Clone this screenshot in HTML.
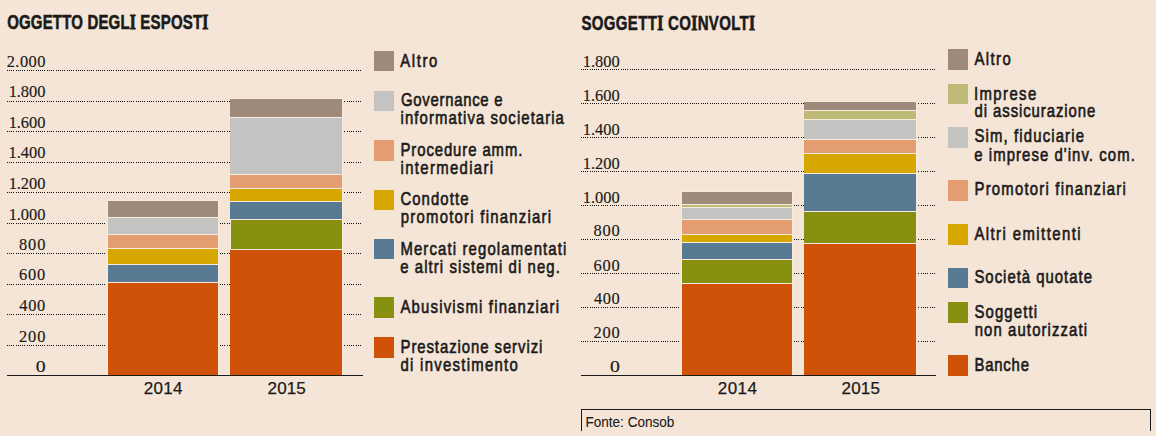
<!DOCTYPE html>
<html><head><meta charset="utf-8">
<style>
html,body{margin:0;padding:0;background:#f5e5d6;}
body{width:1156px;height:436px;overflow:hidden;}
svg{display:block;}
</style></head><body>
<svg width="1156" height="436" viewBox="0 0 1156 436">
<defs><pattern id="dL" x="7" y="0" width="20" height="1" patternUnits="userSpaceOnUse"><rect x="0" width="1" height="1" fill="#111"/><rect x="2" width="1" height="1" fill="#111"/><rect x="4" width="1" height="1" fill="#111"/><rect x="6" width="1" height="1" fill="#111"/><rect x="9" width="1" height="1" fill="#111"/><rect x="11" width="1" height="1" fill="#111"/><rect x="13" width="1" height="1" fill="#111"/><rect x="15" width="1" height="1" fill="#111"/><rect x="17" width="1" height="1" fill="#111"/></pattern><pattern id="dR" x="1" y="0" width="20" height="1" patternUnits="userSpaceOnUse"><rect x="0" width="1" height="1" fill="#111"/><rect x="2" width="1" height="1" fill="#111"/><rect x="4" width="1" height="1" fill="#111"/><rect x="6" width="1" height="1" fill="#111"/><rect x="9" width="1" height="1" fill="#111"/><rect x="11" width="1" height="1" fill="#111"/><rect x="13" width="1" height="1" fill="#111"/><rect x="15" width="1" height="1" fill="#111"/><rect x="17" width="1" height="1" fill="#111"/></pattern></defs>
<rect width="1156" height="436" fill="#f5e5d6"/>
<g shape-rendering="crispEdges">
<g fill="url(#dL)"><rect x="7" y="70" width="354" height="1"/><rect x="7" y="101" width="354" height="1"/><rect x="7" y="131" width="354" height="1"/><rect x="7" y="162" width="354" height="1"/><rect x="7" y="192" width="354" height="1"/><rect x="7" y="223" width="354" height="1"/><rect x="7" y="253" width="354" height="1"/><rect x="7" y="284" width="354" height="1"/><rect x="7" y="314" width="354" height="1"/><rect x="7" y="345" width="354" height="1"/></g>
<g fill="url(#dR)"><rect x="581" y="69" width="355" height="1"/><rect x="581" y="103" width="355" height="1"/><rect x="581" y="137" width="355" height="1"/><rect x="581" y="171" width="355" height="1"/><rect x="581" y="205" width="355" height="1"/><rect x="581" y="239" width="355" height="1"/><rect x="581" y="273" width="355" height="1"/><rect x="581" y="307" width="355" height="1"/><rect x="581" y="341" width="355" height="1"/></g>
<rect x="107" y="200" width="112" height="175" fill="#f8eadd"/><rect x="108" y="201" width="110" height="16" fill="#9d8a7a"/><rect x="108" y="218" width="110" height="16" fill="#c3c4c2"/><rect x="108" y="235" width="110" height="13" fill="#e49d70"/><rect x="108" y="249" width="110" height="15" fill="#d7a700"/><rect x="108" y="265" width="110" height="17" fill="#587a93"/><rect x="108" y="283" width="110" height="92" fill="#d05208"/>
<rect x="230" y="98" width="113" height="277" fill="#f8eadd"/><rect x="230" y="99" width="112" height="18" fill="#9d8a7a"/><rect x="230" y="118" width="112" height="56" fill="#c3c4c2"/><rect x="230" y="175" width="112" height="13" fill="#e49d70"/><rect x="230" y="189" width="112" height="12" fill="#d7a700"/><rect x="230" y="202" width="112" height="17" fill="#587a93"/><rect x="231" y="220" width="111" height="29" fill="#88900f"/><rect x="230" y="250" width="112" height="125" fill="#d05208"/>
<rect x="681" y="191" width="112" height="184" fill="#f8eadd"/><rect x="682" y="192" width="110" height="12" fill="#9d8a7a"/><rect x="682" y="205" width="110" height="2" fill="#bdba78"/><rect x="682" y="208" width="110" height="11" fill="#c3c4c2"/><rect x="682" y="220" width="110" height="14" fill="#e49d70"/><rect x="682" y="235" width="110" height="7" fill="#d7a700"/><rect x="682" y="243" width="110" height="16" fill="#587a93"/><rect x="682" y="260" width="110" height="23" fill="#88900f"/><rect x="682" y="284" width="110" height="91" fill="#d05208"/>
<rect x="804" y="101" width="113" height="274" fill="#f8eadd"/><rect x="804" y="102" width="112" height="8" fill="#9d8a7a"/><rect x="804" y="111" width="112" height="8" fill="#bdba78"/><rect x="804" y="120" width="112" height="19" fill="#c3c4c2"/><rect x="804" y="140" width="112" height="13" fill="#e49d70"/><rect x="804" y="154" width="112" height="19" fill="#d7a700"/><rect x="804" y="174" width="112" height="37" fill="#587a93"/><rect x="804" y="212" width="112" height="31" fill="#88900f"/><rect x="804" y="244" width="112" height="131" fill="#d05208"/>
<rect x="7" y="375" width="356" height="1" fill="#1a1a1a"/><rect x="581" y="375" width="355" height="1" fill="#1a1a1a"/>
<rect x="374" y="51" width="20" height="20" fill="#9d8a7a"/><rect x="374" y="91" width="20" height="20" fill="#c3c4c2"/><rect x="374" y="140" width="20" height="21" fill="#e49d70"/><rect x="374" y="190" width="20" height="20" fill="#d7a700"/><rect x="374" y="239" width="20" height="20" fill="#587a93"/><rect x="374" y="297" width="20" height="21" fill="#88900f"/><rect x="374" y="337" width="20" height="21" fill="#d05208"/>
<rect x="948" y="49" width="20" height="21" fill="#9d8a7a"/><rect x="948" y="84" width="20" height="20" fill="#bdba78"/><rect x="948" y="127" width="20" height="21" fill="#c3c4c2"/><rect x="948" y="180" width="20" height="21" fill="#e49d70"/><rect x="948" y="224" width="20" height="21" fill="#d7a700"/><rect x="948" y="268" width="20" height="20" fill="#587a93"/><rect x="948" y="302" width="20" height="21" fill="#88900f"/><rect x="948" y="355" width="20" height="21" fill="#d05208"/>
<rect x="581" y="409" width="570" height="1" fill="#1a1a1a"/><rect x="581" y="409" width="1" height="22" fill="#1a1a1a"/><rect x="1150" y="409" width="1" height="22" fill="#1a1a1a"/>
</g>
<text transform="translate(7.13 29) scale(0.74 1)" textLength="271.85" lengthAdjust="spacing" style='font-family:"Liberation Sans",sans-serif;font-weight:bold;font-size:20.3px;' fill="#1a1a1a" stroke="#1a1a1a" stroke-width="0.55">OGGETTO DEGL<tspan style='font-family:"Liberation Serif",serif;font-size:21px;stroke-width:0.9;'>I</tspan> ESPOST<tspan style='font-family:"Liberation Serif",serif;font-size:21px;stroke-width:0.9;'>I</tspan></text>
<text transform="translate(581.42 30) scale(0.74 1)" textLength="234.72" lengthAdjust="spacing" style='font-family:"Liberation Sans",sans-serif;font-weight:bold;font-size:20.3px;' fill="#1a1a1a" stroke="#1a1a1a" stroke-width="0.55">SOGGETT<tspan style='font-family:"Liberation Serif",serif;font-size:21px;stroke-width:0.9;'>I</tspan> CO<tspan style='font-family:"Liberation Serif",serif;font-size:21px;stroke-width:0.9;'>I</tspan>NVOLT<tspan style='font-family:"Liberation Serif",serif;font-size:21px;stroke-width:0.9;'>I</tspan></text>
<text transform="translate(400.29 67) scale(0.8 1)" textLength="46.29" lengthAdjust="spacing" style='font-family:"Liberation Sans",sans-serif;font-size:18.6px;' fill="#1a1a1a" stroke="#1a1a1a" stroke-width="0.65">Altro</text>
<text transform="translate(400.93 106) scale(0.8 1)" textLength="127.01" lengthAdjust="spacing" style='font-family:"Liberation Sans",sans-serif;font-size:18.6px;' fill="#1a1a1a" stroke="#1a1a1a" stroke-width="0.65">Governance e</text>
<text transform="translate(400.62 124) scale(0.8 1)" textLength="204.10" lengthAdjust="spacing" style='font-family:"Liberation Sans",sans-serif;font-size:18.6px;' fill="#1a1a1a" stroke="#1a1a1a" stroke-width="0.65">informativa societaria</text>
<text transform="translate(400.52 155.6) scale(0.8 1)" textLength="152.29" lengthAdjust="spacing" style='font-family:"Liberation Sans",sans-serif;font-size:18.6px;' fill="#1a1a1a" stroke="#1a1a1a" stroke-width="0.65">Procedure amm.</text>
<text transform="translate(400.62 174.4) scale(0.8 1)" textLength="115.50" lengthAdjust="spacing" style='font-family:"Liberation Sans",sans-serif;font-size:18.6px;' fill="#1a1a1a" stroke="#1a1a1a" stroke-width="0.65">intermediari</text>
<text transform="translate(400.42 205.3) scale(0.8 1)" textLength="85.04" lengthAdjust="spacing" style='font-family:"Liberation Sans",sans-serif;font-size:18.6px;' fill="#1a1a1a" stroke="#1a1a1a" stroke-width="0.65">Condotte</text>
<text transform="translate(400.76 223) scale(0.8 1)" textLength="187.94" lengthAdjust="spacing" style='font-family:"Liberation Sans",sans-serif;font-size:18.6px;' fill="#1a1a1a" stroke="#1a1a1a" stroke-width="0.65">promotori finanziari</text>
<text transform="translate(400.40 254.6) scale(0.8 1)" textLength="207.44" lengthAdjust="spacing" style='font-family:"Liberation Sans",sans-serif;font-size:18.6px;' fill="#1a1a1a" stroke="#1a1a1a" stroke-width="0.65">Mercati regolamentati</text>
<text transform="translate(400.23 273) scale(0.8 1)" textLength="199.45" lengthAdjust="spacing" style='font-family:"Liberation Sans",sans-serif;font-size:18.6px;' fill="#1a1a1a" stroke="#1a1a1a" stroke-width="0.65">e altri sistemi di neg.</text>
<text transform="translate(400.51 312.6) scale(0.8 1)" textLength="198.14" lengthAdjust="spacing" style='font-family:"Liberation Sans",sans-serif;font-size:18.6px;' fill="#1a1a1a" stroke="#1a1a1a" stroke-width="0.65">Abusivismi finanziari</text>
<text transform="translate(400.52 352.6) scale(0.8 1)" textLength="177.27" lengthAdjust="spacing" style='font-family:"Liberation Sans",sans-serif;font-size:18.6px;' fill="#1a1a1a" stroke="#1a1a1a" stroke-width="0.65">Prestazione servizi</text>
<text transform="translate(400.56 371.4) scale(0.8 1)" textLength="146.45" lengthAdjust="spacing" style='font-family:"Liberation Sans",sans-serif;font-size:18.6px;' fill="#1a1a1a" stroke="#1a1a1a" stroke-width="0.65">di investimento</text>
<text transform="translate(974.42 64.9) scale(0.8 1)" textLength="45.44" lengthAdjust="spacing" style='font-family:"Liberation Sans",sans-serif;font-size:18.6px;' fill="#1a1a1a" stroke="#1a1a1a" stroke-width="0.65">Altro</text>
<text transform="translate(973.93 99.8) scale(0.8 1)" textLength="77.86" lengthAdjust="spacing" style='font-family:"Liberation Sans",sans-serif;font-size:18.6px;' fill="#1a1a1a" stroke="#1a1a1a" stroke-width="0.65">Imprese</text>
<text transform="translate(974.56 117.1) scale(0.8 1)" textLength="150.74" lengthAdjust="spacing" style='font-family:"Liberation Sans",sans-serif;font-size:18.6px;' fill="#1a1a1a" stroke="#1a1a1a" stroke-width="0.65">di assicurazione</text>
<text transform="translate(974.44 142) scale(0.8 1)" textLength="136.86" lengthAdjust="spacing" style='font-family:"Liberation Sans",sans-serif;font-size:18.6px;' fill="#1a1a1a" stroke="#1a1a1a" stroke-width="0.65">Sim, fiduciarie</text>
<text transform="translate(974.23 161) scale(0.8 1)" textLength="200.70" lengthAdjust="spacing" style='font-family:"Liberation Sans",sans-serif;font-size:18.6px;' fill="#1a1a1a" stroke="#1a1a1a" stroke-width="0.65">e imprese d&#39;inv. com.</text>
<text transform="translate(974.52 195.3) scale(0.8 1)" textLength="189.06" lengthAdjust="spacing" style='font-family:"Liberation Sans",sans-serif;font-size:18.6px;' fill="#1a1a1a" stroke="#1a1a1a" stroke-width="0.65">Promotori finanziari</text>
<text transform="translate(974.42 239.9) scale(0.8 1)" textLength="132.70" lengthAdjust="spacing" style='font-family:"Liberation Sans",sans-serif;font-size:18.6px;' fill="#1a1a1a" stroke="#1a1a1a" stroke-width="0.65">Altri emittenti</text>
<text transform="translate(974.44 283) scale(0.8 1)" textLength="146.86" lengthAdjust="spacing" style='font-family:"Liberation Sans",sans-serif;font-size:18.6px;' fill="#1a1a1a" stroke="#1a1a1a" stroke-width="0.65">Società quotate</text>
<text transform="translate(974.44 317.6) scale(0.8 1)" textLength="78.25" lengthAdjust="spacing" style='font-family:"Liberation Sans",sans-serif;font-size:18.6px;' fill="#1a1a1a" stroke="#1a1a1a" stroke-width="0.65">Soggetti</text>
<text transform="translate(974.73 336.4) scale(0.8 1)" textLength="140.40" lengthAdjust="spacing" style='font-family:"Liberation Sans",sans-serif;font-size:18.6px;' fill="#1a1a1a" stroke="#1a1a1a" stroke-width="0.65">non autorizzati</text>
<text transform="translate(974.52 370.6) scale(0.8 1)" textLength="67.99" lengthAdjust="spacing" style='font-family:"Liberation Sans",sans-serif;font-size:18.6px;' fill="#1a1a1a" stroke="#1a1a1a" stroke-width="0.65">Banche</text>
<text x="143.66" y="394.2" textLength="38.84" lengthAdjust="spacing" style='font-family:"Liberation Sans",sans-serif;font-size:17px;' fill="#1a1a1a" stroke="#1a1a1a" stroke-width="0.25">2014</text>
<text x="267.61" y="394.2" textLength="38.07" lengthAdjust="spacing" style='font-family:"Liberation Sans",sans-serif;font-size:17px;' fill="#1a1a1a" stroke="#1a1a1a" stroke-width="0.25">2015</text>
<text x="717.77" y="394" textLength="39.08" lengthAdjust="spacing" style='font-family:"Liberation Sans",sans-serif;font-size:17px;' fill="#1a1a1a" stroke="#1a1a1a" stroke-width="0.25">2014</text>
<text x="841.48" y="394" textLength="38.47" lengthAdjust="spacing" style='font-family:"Liberation Sans",sans-serif;font-size:17px;' fill="#1a1a1a" stroke="#1a1a1a" stroke-width="0.25">2015</text>
<text transform="translate(585.45 426.6) scale(0.88 1)" textLength="101.10" lengthAdjust="spacing" style='font-family:"Liberation Sans",sans-serif;font-size:15.4px;' fill="#1a1a1a" stroke="#1a1a1a" stroke-width="0.1">Fonte: Consob</text>
<text transform="translate(6.69 67) scale(1.02 1)" textLength="38.05" lengthAdjust="spacing" style='font-family:"Liberation Serif",serif;font-size:16.1px;' fill="#1a1a1a" stroke="#1a1a1a" stroke-width="0.15">2.000</text>
<text transform="translate(8.68 97) scale(1.02 1)" textLength="35.97" lengthAdjust="spacing" style='font-family:"Liberation Serif",serif;font-size:16.1px;' fill="#1a1a1a" stroke="#1a1a1a" stroke-width="0.15">1.800</text>
<text transform="translate(8.68 128) scale(1.02 1)" textLength="35.97" lengthAdjust="spacing" style='font-family:"Liberation Serif",serif;font-size:16.1px;' fill="#1a1a1a" stroke="#1a1a1a" stroke-width="0.15">1.600</text>
<text transform="translate(8.55 158) scale(1.02 1)" textLength="36.12" lengthAdjust="spacing" style='font-family:"Liberation Serif",serif;font-size:16.1px;' fill="#1a1a1a" stroke="#1a1a1a" stroke-width="0.15">1.400</text>
<text transform="translate(8.68 189) scale(1.02 1)" textLength="35.97" lengthAdjust="spacing" style='font-family:"Liberation Serif",serif;font-size:16.1px;' fill="#1a1a1a" stroke="#1a1a1a" stroke-width="0.15">1.200</text>
<text transform="translate(8.68 220) scale(1.02 1)" textLength="35.97" lengthAdjust="spacing" style='font-family:"Liberation Serif",serif;font-size:16.1px;' fill="#1a1a1a" stroke="#1a1a1a" stroke-width="0.15">1.000</text>
<text transform="translate(18.91 250) scale(1.02 1)" textLength="25.96" lengthAdjust="spacing" style='font-family:"Liberation Serif",serif;font-size:16.1px;' fill="#1a1a1a" stroke="#1a1a1a" stroke-width="0.15">800</text>
<text transform="translate(19.12 280) scale(1.02 1)" textLength="25.57" lengthAdjust="spacing" style='font-family:"Liberation Serif",serif;font-size:16.1px;' fill="#1a1a1a" stroke="#1a1a1a" stroke-width="0.15">600</text>
<text transform="translate(19.34 311) scale(1.02 1)" textLength="25.45" lengthAdjust="spacing" style='font-family:"Liberation Serif",serif;font-size:16.1px;' fill="#1a1a1a" stroke="#1a1a1a" stroke-width="0.15">400</text>
<text transform="translate(19.07 342) scale(1.02 1)" textLength="25.76" lengthAdjust="spacing" style='font-family:"Liberation Serif",serif;font-size:16.1px;' fill="#1a1a1a" stroke="#1a1a1a" stroke-width="0.15">200</text>
<text transform="translate(35.72 372) scale(1.02 1)" textLength="9.69" lengthAdjust="spacingAndGlyphs" style='font-family:"Liberation Serif",serif;font-size:16.1px;' fill="#1a1a1a" stroke="#1a1a1a" stroke-width="0.15">0</text>
<text transform="translate(582.68 67) scale(1.02 1)" textLength="36.32" lengthAdjust="spacing" style='font-family:"Liberation Serif",serif;font-size:16.1px;' fill="#1a1a1a" stroke="#1a1a1a" stroke-width="0.15">1.800</text>
<text transform="translate(582.68 101) scale(1.02 1)" textLength="36.32" lengthAdjust="spacing" style='font-family:"Liberation Serif",serif;font-size:16.1px;' fill="#1a1a1a" stroke="#1a1a1a" stroke-width="0.15">1.600</text>
<text transform="translate(582.68 135) scale(1.02 1)" textLength="36.32" lengthAdjust="spacing" style='font-family:"Liberation Serif",serif;font-size:16.1px;' fill="#1a1a1a" stroke="#1a1a1a" stroke-width="0.15">1.400</text>
<text transform="translate(582.68 169) scale(1.02 1)" textLength="36.32" lengthAdjust="spacing" style='font-family:"Liberation Serif",serif;font-size:16.1px;' fill="#1a1a1a" stroke="#1a1a1a" stroke-width="0.15">1.200</text>
<text transform="translate(582.68 203) scale(1.02 1)" textLength="36.32" lengthAdjust="spacing" style='font-family:"Liberation Serif",serif;font-size:16.1px;' fill="#1a1a1a" stroke="#1a1a1a" stroke-width="0.15">1.000</text>
<text transform="translate(593.57 236) scale(1.02 1)" textLength="25.61" lengthAdjust="spacing" style='font-family:"Liberation Serif",serif;font-size:16.1px;' fill="#1a1a1a" stroke="#1a1a1a" stroke-width="0.15">800</text>
<text transform="translate(593.45 271) scale(1.02 1)" textLength="25.68" lengthAdjust="spacing" style='font-family:"Liberation Serif",serif;font-size:16.1px;' fill="#1a1a1a" stroke="#1a1a1a" stroke-width="0.15">600</text>
<text transform="translate(593.89 304) scale(1.02 1)" textLength="25.21" lengthAdjust="spacing" style='font-family:"Liberation Serif",serif;font-size:16.1px;' fill="#1a1a1a" stroke="#1a1a1a" stroke-width="0.15">400</text>
<text transform="translate(593.57 338) scale(1.02 1)" textLength="25.54" lengthAdjust="spacing" style='font-family:"Liberation Serif",serif;font-size:16.1px;' fill="#1a1a1a" stroke="#1a1a1a" stroke-width="0.15">200</text>
<text transform="translate(610.12 372) scale(1.02 1)" textLength="9.69" lengthAdjust="spacingAndGlyphs" style='font-family:"Liberation Serif",serif;font-size:16.1px;' fill="#1a1a1a" stroke="#1a1a1a" stroke-width="0.15">0</text>
</svg>
</body></html>
